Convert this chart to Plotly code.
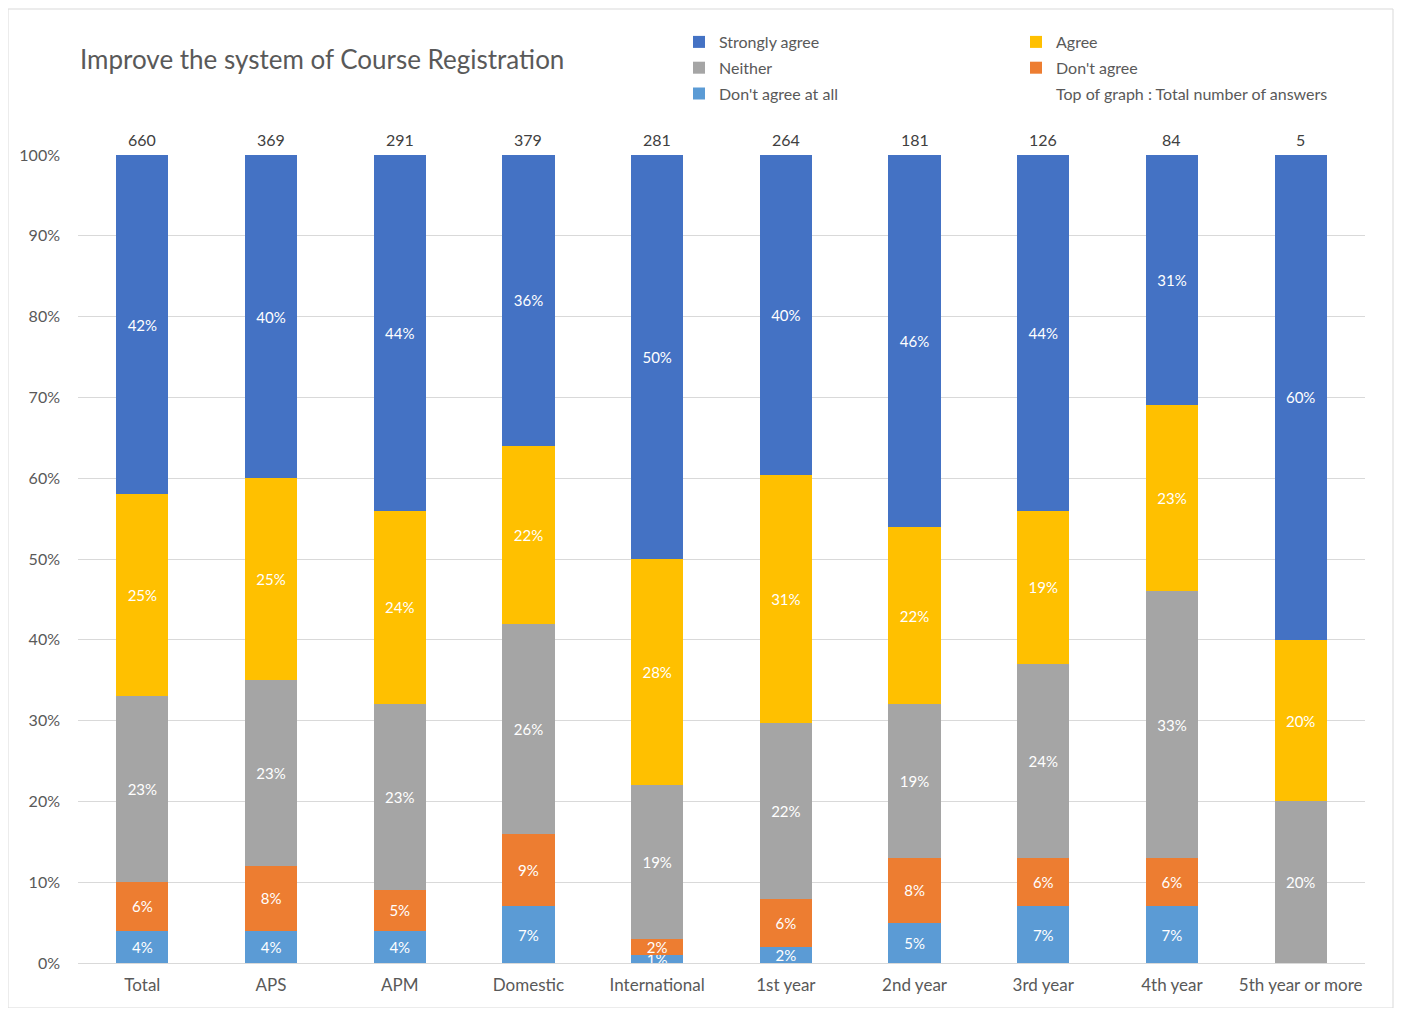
import plotly.graph_objects as go

categories = ["Total", "APS", "APM", "Domestic", "International",
              "1st year", "2nd year", "3rd year", "4th year", "5th year or more"]
totals = [660, 369, 291, 379, 281, 264, 181, 126, 84, 5]

# percentages, bottom to top of each stack
dont_agree_at_all = [4, 4, 4, 7, 1, 2.0, 5, 7, 7, 0]
dont_agree = [6, 8, 5, 9, 2, 5.9, 8, 6, 6, 0]
neither = [23, 23, 23, 26, 19, 21.8, 19, 24, 33, 20]
agree = [25, 25, 24, 22, 28, 30.7, 22, 19, 23, 20]
strongly_agree = [42, 40, 44, 36, 50, 39.6, 46, 44, 31, 60]

series = [
    ("Don't agree at all", dont_agree_at_all, "#5B9BD5", "legend", 3),
    ("Don't agree", dont_agree, "#ED7D31", "legend2", 2),
    ("Neither", neither, "#A5A5A5", "legend", 2),
    ("Agree", agree, "#FFC000", "legend2", 1),
    ("Strongly agree", strongly_agree, "#4472C4", "legend", 1),
]

FONT = "Lato"
GREY = "#595959"

fig = go.Figure()

for name, vals, color, leg, rank in series:
    fig.add_trace(
        go.Bar(
            x=categories,
            y=vals,
            name=name,
            marker=dict(color=color, line=dict(width=0)),
            texttemplate="%{y:.0f}%",
            textposition="inside",
            insidetextanchor="middle",
            textangle=0,
            textfont=dict(color="white", size=15, family=FONT),
            legend=leg,
            legendrank=rank,
            legendgroup=name,
        )
    )

# text-only legend entry
fig.add_trace(
    go.Scatter(
        x=[None], y=[None], mode="markers",
        marker=dict(color="rgba(0,0,0,0)", size=1),
        name="Top of graph : Total number of answers",
        legend="legend2", legendrank=3, legendgroup="top",
    )
)

for cat, n in zip(categories, totals):
    fig.add_annotation(
        x=cat, y=100, text=str(n), showarrow=False,
        yanchor="bottom", yshift=4,
        font=dict(size=16, color="#404040", family=FONT),
    )

# chart border
fig.add_shape(
    type="rect", xref="paper", yref="paper",
    x0=-70 / 1287, x1=1 + 28 / 1287, y0=-45 / 808, y1=1 + 146 / 808,
    line=dict(color="#D9D9D9", width=1),
)

legend_style = dict(
    xref="container", yref="container",
    yanchor="top", xanchor="left",
    font=dict(size=16, color=GREY, family=FONT),
    bgcolor="rgba(0,0,0,0)", itemwidth=30,
    tracegroupgap=2, traceorder="grouped",
)

fig.update_layout(
    width=1386,
    height=1000,
    barmode="stack",
    bargap=0.595,
    plot_bgcolor="white",
    paper_bgcolor="white",
    font=dict(family=FONT, color=GREY),
    margin=dict(l=70, r=29, t=147, b=45, autoexpand=False),
    title=dict(
        text="Improve the system of Course Registration",
        xref="container", yref="container",
        x=72 / 1386, y=1 - 52 / 1000,
        xanchor="left", yanchor="middle",
        font=dict(size=26, color=GREY, family=FONT),
    ),
    legend=dict(x=671 / 1386, y=1 - 17 / 1000, **legend_style),
    legend2=dict(x=1008 / 1386, y=1 - 17 / 1000, **legend_style),
    showlegend=True,
    uniformtext=dict(minsize=15, mode="show"),
    xaxis=dict(
        showgrid=False, showline=True, linecolor="#D9D9D9",
        ticks="", tickfont=dict(size=17, color=GREY, family=FONT),
        ticklabelstandoff=7, tickangle=0,
    ),
    yaxis=dict(
        range=[0, 100], dtick=10, ticksuffix="%",
        showgrid=True, gridcolor="#D9D9D9", zeroline=False,
        tickfont=dict(size=16, color=GREY, family=FONT),
        ticklabelstandoff=17,
    ),
)

fig.write_html("out.html")
